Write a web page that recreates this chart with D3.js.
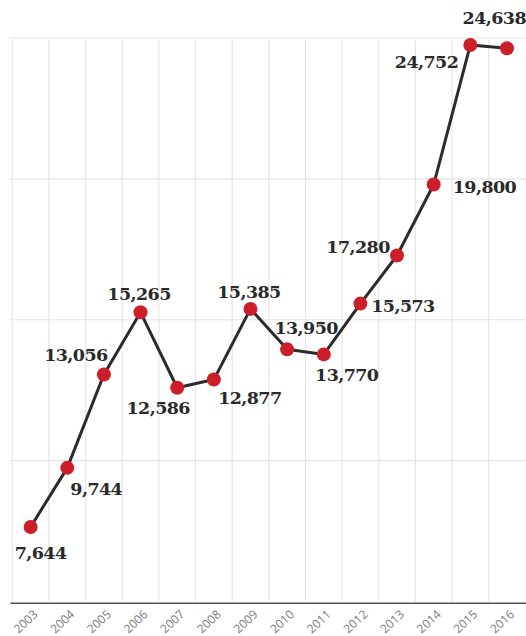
<!DOCTYPE html>
<html>
<head>
<meta charset="utf-8">
<script src="https://cdn.jsdelivr.net/npm/d3@7/dist/d3.min.js"></script>
<style>
  html, body { margin: 0; padding: 0; background: #fff; }
  svg { display: block; }
</style>
</head>
<body>
<div id="chart"></div>
<script>
// ---- data ----
const years = ["2003","2004","2005","2006","2007","2008","2009","2010","2011","2012","2013","2014","2015","2016"];
const values = [7644, 9744, 13056, 15265, 12586, 12877, 15385, 13950, 13770, 15573, 17280, 19800, 24752, 24638];
const yTicks = [5000, 10000, 15000, 20000, 25000];

// ---- label layout (offsets from each point) ----
const labelDx = [10, 29, -28, -1.5, -19, 36, -1.5, 19, 23, 42.6, -39, 50.8, -43.8, -12.7];
const labelDy = [31.5, 27, -13.7, -12, 26.5, 24.7, -10.7, -15, 26.4, 8.6, -2.3, 8.6, 23, -23.7];

const W = 526, H = 636;
const svg = d3.select("#chart").append("svg").attr("width", W).attr("height", H);

const x = d3.scaleBand().domain(years).range([12.3, 525.3]).paddingInner(0).paddingOuter(0);
const y = d3.scaleLinear().domain([5000, 25000]).range([601.5, 38]);

// vertical gridlines at band edges
svg.append("g").selectAll("line").data(years).join("line")
  .attr("x1", d => x(d)).attr("x2", d => x(d))
  .attr("y1", y(25000) + 2).attr("y2", y(5000))
  .attr("stroke", "#e6e6e8").attr("stroke-width", 1.2);

// horizontal gridlines
svg.append("g").selectAll("line").data(yTicks.filter(t => t > 5000)).join("line")
  .attr("x1", 9.5).attr("x2", W)
  .attr("y1", d => y(d)).attr("y2", d => y(d))
  .attr("stroke", "#e4e4e6").attr("stroke-width", 1.2);

// x axis
const xAxis = svg.append("g")
  .attr("transform", `translate(0,${y(5000) + 1.8})`)
  .call(d3.axisBottom(x).tickSize(0).tickPadding(0));
xAxis.select(".domain").attr("d", `M10.5,0H${W}`).attr("stroke", "#555").attr("stroke-width", 1.5);
xAxis.selectAll("text")
  .attr("font-family", "'Open Sans', sans-serif")
  .attr("font-weight", 400)
  .attr("font-size", 12)
  .attr("fill", "#7a7a7a")
  .attr("text-anchor", "end")
  .attr("dy", null)
  .attr("y", 0)
  .attr("transform", "translate(8,12) rotate(-43)");

// line
const pts = years.map((yr, i) => ({ yr, v: values[i], i }));
const cx = d => x(d.yr) + x.bandwidth() / 2;
svg.append("path")
  .datum(pts)
  .attr("fill", "none")
  .attr("stroke", "#2b2b2b")
  .attr("stroke-width", 3)
  .attr("stroke-linejoin", "round")
  .attr("d", d3.line().x(cx).y(d => y(d.v)));

// dots
svg.append("g").selectAll("circle").data(pts).join("circle")
  .attr("cx", cx).attr("cy", d => y(d.v))
  .attr("r", 7)
  .attr("fill", "#cc1f2a");

// value labels
const fmt = d3.format(",");
svg.append("g").selectAll("text").data(pts).join("text")
  .attr("x", d => cx(d) + labelDx[d.i])
  .attr("y", d => y(d.v) + labelDy[d.i])
  .attr("text-anchor", "middle")
  .attr("font-family", "'DejaVu Serif', serif")
  .attr("font-weight", "bold")
  .attr("font-size", 17.5)
  .attr("letter-spacing", -0.6)
  .attr("fill", "#2a2a2a")
  .text(d => fmt(d.v));
</script>
</body>
</html>
